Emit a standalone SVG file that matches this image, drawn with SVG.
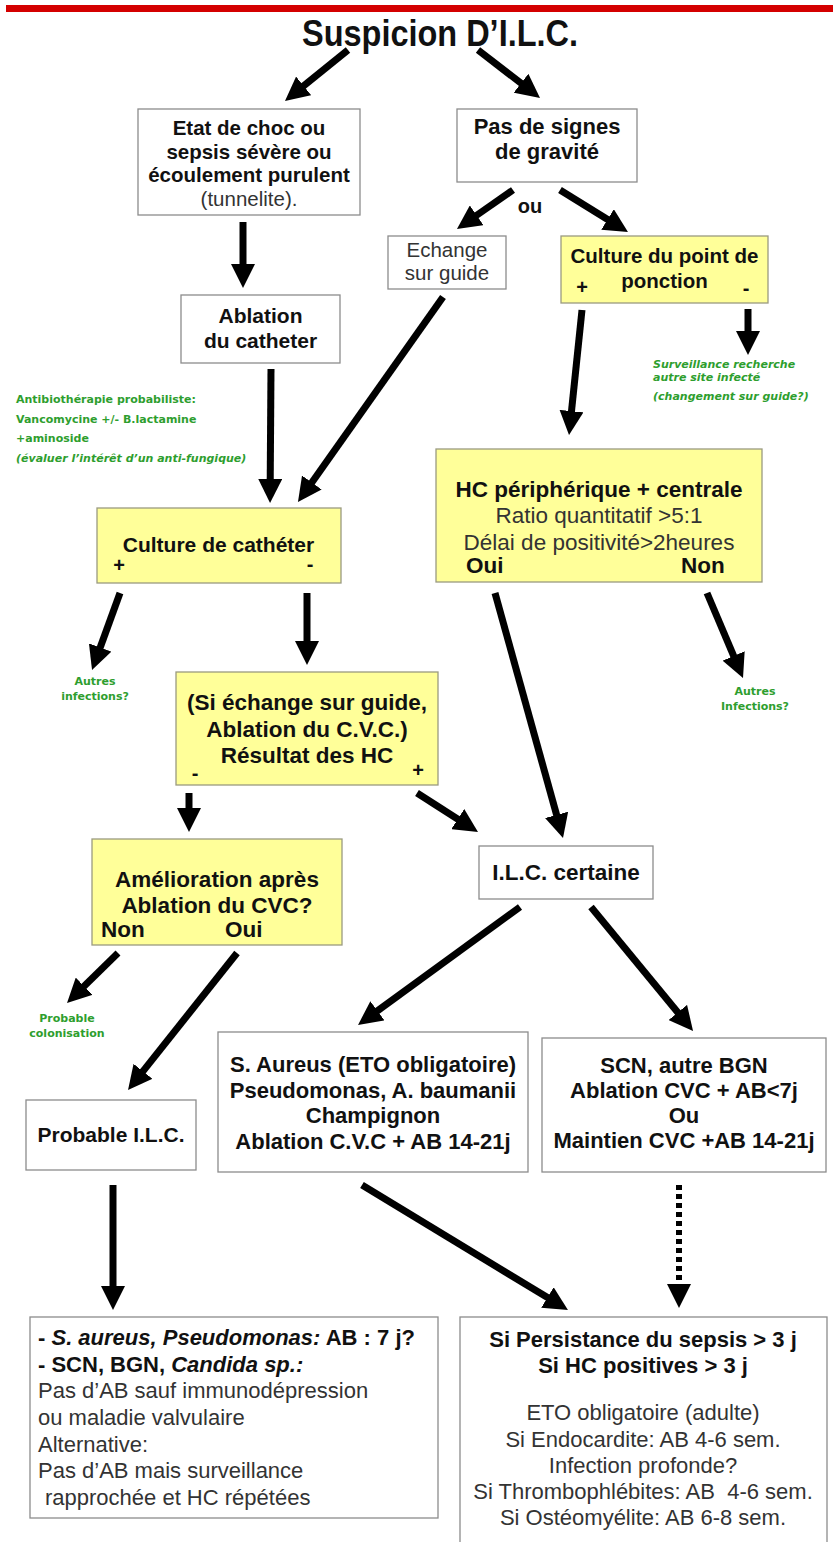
<svg xmlns="http://www.w3.org/2000/svg" width="833" height="1542" viewBox="0 0 833 1542">
<defs>
<style>
.box{fill:#fff;stroke:#8c8c8c;stroke-width:1.3}
.ybox{fill:#ffff99;stroke:#9a9a80;stroke-width:1.3}
.b{font-family:"Liberation Sans",Arial,sans-serif;font-weight:bold;fill:#111}
.r{font-family:"Liberation Sans",Arial,sans-serif;fill:#333}
.g{font-family:"DejaVu Sans",Verdana,sans-serif;font-weight:bold;font-size:11px;fill:#2e9e2e}
.i{font-style:italic}
.c{text-anchor:middle}
.arr{stroke:#000;stroke-width:7;fill:none;marker-end:url(#ah)}
.dot{stroke:#000;stroke-width:6;fill:none;stroke-dasharray:5 4;marker-end:url(#ah)}
</style>
<marker id="ah" markerUnits="userSpaceOnUse" markerWidth="24" markerHeight="24" viewBox="0 -12 24 24" refX="3" refY="0" orient="auto">
<path d="M0,-12 L24,0 L0,12 z" fill="#000"/>
</marker>
</defs>
<rect x="0" y="0" width="833" height="1542" fill="#fff"/>
<rect x="6" y="5" width="827" height="7" fill="#d40000"/>

<g id="title">
<text class="b c" x="440" y="46" font-size="37" textLength="276" lengthAdjust="spacingAndGlyphs">Suspicion D’I.L.C.</text>
</g>

<g id="etat">
<rect class="box" x="138" y="109" width="222" height="106"/>
<text class="b c" x="249" font-size="20.5"><tspan x="249" y="135">Etat de choc ou</tspan><tspan x="249" y="158.5">sepsis sévère ou</tspan><tspan x="249" y="182">écoulement purulent</tspan></text>
<text class="r c" x="249" y="205.5" font-size="20.5">(tunnelite).</text>
</g>

<g id="pas-signes">
<rect class="box" x="457" y="109" width="180" height="73"/>
<text class="b c" font-size="22"><tspan x="547" y="134">Pas de signes</tspan><tspan x="547" y="159">de gravité</tspan></text>
</g>

<g id="ou">
<text class="b c" x="530" y="213" font-size="20">ou</text>
</g>

<g id="echange">
<rect class="box" x="388" y="236" width="118" height="53"/>
<text class="r c" font-size="20.5"><tspan x="447" y="257">Echange</tspan><tspan x="447" y="280">sur guide</tspan></text>
</g>

<g id="culture-point">
<rect class="ybox" x="561" y="236" width="207" height="67"/>
<text class="b c" font-size="20.5"><tspan x="664.5" y="263">Culture du point de</tspan><tspan x="664.5" y="288">ponction</tspan></text>
<text class="b c" x="582" y="294" font-size="20">+</text>
<text class="b c" x="746" y="295" font-size="20">-</text>
</g>

<g id="ablation">
<rect class="box" x="181" y="295" width="159" height="68"/>
<text class="b c" font-size="21"><tspan x="260.5" y="323">Ablation</tspan><tspan x="260.5" y="348">du catheter</tspan></text>
</g>

<g id="antibio-note">
<text class="g" x="16" y="403">Antibiothérapie probabiliste:</text>
<text class="g" x="16" y="423">Vancomycine +/- B.lactamine</text>
<text class="g" x="16" y="442">+aminoside</text>
<text class="g i" x="16" y="462">(évaluer l’intérêt d’un anti-fungique)</text>
</g>

<g id="surveillance-note">
<text class="g i" x="653" y="368">Surveillance recherche</text>
<text class="g i" x="653" y="381">autre site infecté</text>
<text class="g i" x="653" y="400">(changement sur guide?)</text>
</g>

<g id="hc">
<rect class="ybox" x="436" y="449" width="326" height="133"/>
<text class="b c" x="599" y="497" font-size="22.5">HC périphérique + centrale</text>
<text class="r c" x="599" y="523" font-size="22.5">Ratio quantitatif &gt;5:1</text>
<text class="r c" x="599" y="550" font-size="22.5">Délai de positivité&gt;2heures</text>
<text class="b" x="466" y="573" font-size="22.5">Oui</text>
<text class="b" x="681" y="573" font-size="22.5">Non</text>
</g>

<g id="culture-catheter">
<rect class="ybox" x="97" y="508" width="244" height="75"/>
<text class="b c" x="218.5" y="552" font-size="21">Culture de cathéter</text>
<text class="b c" x="119" y="572" font-size="20">+</text>
<text class="b c" x="310" y="571" font-size="20">-</text>
</g>

<g id="autres-1">
<text class="g c" x="95" y="685">Autres</text>
<text class="g c" x="95" y="700">infections?</text>
</g>

<g id="autres-2">
<text class="g c" x="755" y="695">Autres</text>
<text class="g c" x="755" y="710">Infections?</text>
</g>

<g id="resultat">
<rect class="ybox" x="176" y="672" width="262" height="113"/>
<text class="b c" font-size="22.5"><tspan x="307" y="710">(Si échange sur guide,</tspan><tspan x="307" y="737">Ablation du C.V.C.)</tspan><tspan x="307" y="763">Résultat des HC</tspan></text>
<text class="b c" x="195" y="780" font-size="20">-</text>
<text class="b c" x="418" y="777" font-size="20">+</text>
</g>

<g id="amelioration">
<rect class="ybox" x="92" y="839" width="250" height="106"/>
<text class="b c" font-size="22.5"><tspan x="217" y="887">Amélioration après</tspan><tspan x="217" y="913">Ablation du CVC?</tspan></text>
<text class="b" x="101" y="937" font-size="22.5">Non</text>
<text class="b" x="225" y="937" font-size="22.5">Oui</text>
</g>

<g id="ilc-certaine">
<rect class="box" x="479" y="846" width="174" height="53"/>
<text class="b c" x="566" y="880" font-size="22.5">I.L.C. certaine</text>
</g>

<g id="colonisation">
<text class="g c" x="67" y="1022">Probable</text>
<text class="g c" x="67" y="1037">colonisation</text>
</g>

<g id="saureus">
<rect class="box" x="218" y="1032" width="310" height="140"/>
<text class="b c" font-size="22"><tspan x="373" y="1072">S. Aureus (ETO obligatoire)</tspan><tspan x="373" y="1097.5">Pseudomonas, A. baumanii</tspan><tspan x="373" y="1123">Champignon</tspan><tspan x="373" y="1148.5">Ablation C.V.C + AB 14-21j</tspan></text>
</g>

<g id="scn">
<rect class="box" x="542" y="1038" width="284" height="134"/>
<text class="b c" font-size="22"><tspan x="684" y="1073">SCN, autre BGN</tspan><tspan x="684" y="1098">Ablation CVC + AB&lt;7j</tspan><tspan x="684" y="1123">Ou</tspan><tspan x="684" y="1148">Maintien CVC +AB 14-21j</tspan></text>
</g>

<g id="probable-ilc">
<rect class="box" x="26" y="1100" width="170" height="70"/>
<text class="b c" x="111" y="1142" font-size="21">Probable I.L.C.</text>
</g>

<g id="traitement-court">
<rect class="box" x="30" y="1317" width="408" height="201"/>
<text class="b" x="38" y="1345" font-size="22">- <tspan class="i">S. aureus, Pseudomonas:</tspan> AB : 7 j?</text>
<text class="b" x="38" y="1372" font-size="22">- SCN, BGN, <tspan class="i">Candida sp.:</tspan></text>
<text class="r" x="38" y="1398" font-size="22">Pas d’AB sauf immunodépression</text>
<text class="r" x="38" y="1425" font-size="22">ou maladie valvulaire</text>
<text class="r" x="38" y="1452" font-size="22">Alternative:</text>
<text class="r" x="38" y="1478" font-size="22">Pas d’AB mais surveillance</text>
<text class="r" x="45" y="1505" font-size="22">rapprochée et HC répétées</text>
</g>

<g id="persistance">
<rect class="box" x="460" y="1317" width="367" height="240"/>
<text class="b c" x="643" y="1347" font-size="22">Si Persistance du sepsis &gt; 3 j</text>
<text class="b c" x="643" y="1373" font-size="22">Si HC positives &gt; 3 j</text>
<text class="r c" x="643" y="1420" font-size="22">ETO obligatoire (adulte)</text>
<text class="r c" x="643" y="1447" font-size="22">Si Endocardite: AB 4-6 sem.</text>
<text class="r c" x="643" y="1473" font-size="22">Infection profonde?</text>
<text class="r c" x="643" y="1499" font-size="22">Si Thrombophlébites: AB&#160; 4-6 sem.</text>
<text class="r c" x="643" y="1525" font-size="22">Si Ostéomyélite: AB 6-8 sem.</text>
</g>

<g id="connectors">
<line class="arr" x1="348" y1="50" x2="301.3" y2="87.8"/>
<line class="arr" x1="478" y1="50" x2="523.4" y2="85.1"/>
<line class="arr" x1="243" y1="222" x2="243" y2="267"/>
<line class="arr" x1="513" y1="190" x2="474.2" y2="217"/>
<line class="arr" x1="560" y1="190" x2="610.1" y2="221"/>
<line class="arr" x1="271" y1="369" x2="270.2" y2="482"/>
<line class="arr" x1="443" y1="297" x2="310.1" y2="484.9"/>
<line class="arr" x1="582" y1="310" x2="571.2" y2="414.1"/>
<line class="arr" x1="748" y1="309" x2="748" y2="334"/>
<line class="arr" x1="120" y1="593" x2="99.2" y2="650.3"/>
<line class="arr" x1="307" y1="593" x2="307" y2="644"/>
<line class="arr" x1="495" y1="593" x2="557.4" y2="817.8"/>
<line class="arr" x1="707" y1="593" x2="734.8" y2="658.7"/>
<line class="arr" x1="189" y1="793" x2="189" y2="811"/>
<line class="arr" x1="417" y1="793" x2="460.3" y2="820.7"/>
<line class="arr" x1="520" y1="907" x2="375" y2="1012.6"/>
<line class="arr" x1="591" y1="907" x2="679.7" y2="1014.8"/>
<line class="arr" x1="118" y1="953" x2="82" y2="988.3"/>
<line class="arr" x1="237" y1="953" x2="141.1" y2="1073.6"/>
<line class="arr" x1="113" y1="1185" x2="113" y2="1289"/>
<line class="arr" x1="362" y1="1185" x2="550" y2="1299.1"/>
<line class="dot" x1="679" y1="1185" x2="679" y2="1287"/>
</g>
</svg>
